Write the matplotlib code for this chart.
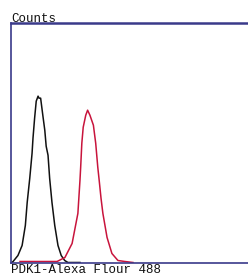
import matplotlib
matplotlib.use("Agg")
import matplotlib.pyplot as plt

# Fluorescence channel (0-1024) and counts
control_channel = [4, 9, 30, 48, 62, 70, 81, 85, 91, 95, 102, 109, 117, 121, 128,
                   138, 146, 152, 160, 167, 177, 189, 203, 217, 232, 246, 298]
control_counts = [0, 1, 7, 17, 37, 60, 84, 94, 109, 124, 144, 161, 166, 164, 164,
                  146, 132, 116, 107, 84, 60, 37, 17, 7, 2, 0, 0]

pdk1_channel = [39, 125, 199, 233, 264, 289, 298, 301, 306, 312, 323, 331, 341,
                356, 366, 375, 381, 389, 397, 415, 436, 462, 492, 527]
pdk1_counts = [1, 1, 1, 5, 19, 49, 82, 95, 119, 135, 147, 152, 147,
               137, 119, 95, 82, 64, 49, 25, 9, 2, 1, 0]

x_label = "PDK1-Alexa Flour 488"
y_label = "Counts"

fig = plt.figure(figsize=(2.48, 2.75), dpi=100)
ax = fig.add_axes([11 / 248, 12.5 / 275, 1 - 11 / 248, 239.5 / 275])

ax.plot(control_channel, control_counts, color="#111111", lw=1.1)
ax.plot(pdk1_channel, pdk1_counts, color="#c8143c", lw=1.1)

ax.set_xlim(0, 1024)
ax.set_ylim(0, 239)
ax.set_xticks([])
ax.set_yticks([])

spine_col = "#3a3a8a"
for s in ("left", "bottom"):
    ax.spines[s].set_color(spine_col)
    ax.spines[s].set_linewidth(1.2)
ax.spines["top"].set_color(spine_col)
ax.spines["top"].set_linewidth(1.8)
ax.spines["right"].set_visible(False)

fig.text(11 / 248, 1 - 22.5 / 275, y_label, fontfamily="Liberation Mono",
         fontsize=9, va="baseline", ha="left", color="#111111")
fig.text(11 / 248, 1 - 273 / 275, x_label, fontfamily="Liberation Mono",
         fontsize=9, va="baseline", ha="left", color="#111111")

fig.savefig("out.png", dpi=100)
